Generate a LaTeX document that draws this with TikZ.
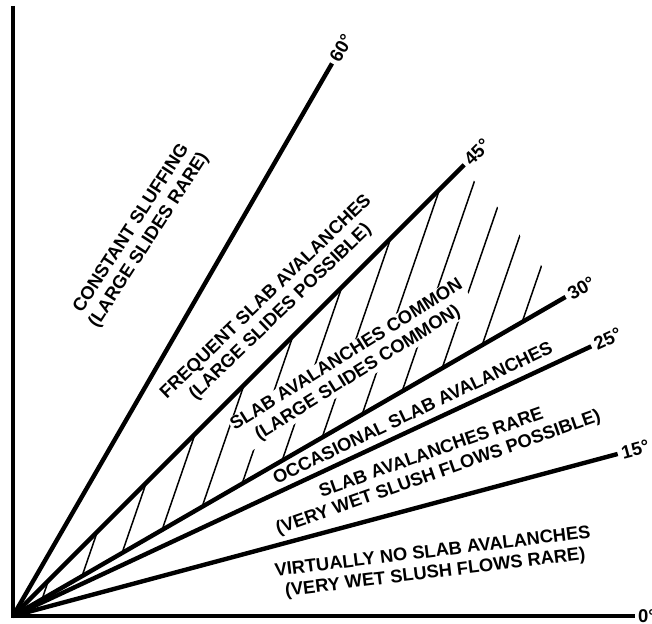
\documentclass[tikz,border=0pt]{standalone}
\usepackage{fontspec}
\setmainfont{Liberation Sans}
\usetikzlibrary{calc}

\begin{document}
\begin{tikzpicture}[x=1pt,y=1pt,line join=miter,
  axis/.style={line width=4.4pt},
  ray/.style={line width=4.4pt},
  hatch/.style={line width=1.5pt},
  zone/.style={font=\bfseries\fontsize{18.3}{21}\selectfont,align=center,inner sep=1pt},
  deg/.style={font=\bfseries\fontsize{18.5}{20}\selectfont,anchor=west,inner sep=1pt}]

\useasboundingbox (0,0) rectangle (652,623);
\coordinate (O) at (13,7);

% Hatched band between the 30 and 45 degree rays.
\begin{scope}
  \clip (O) -- ($(O)+(30:634)$) arc[start angle=30,end angle=45,radius=634] -- cycle;
  \foreach \k in {0,...,12}
  {
    \pgfmathsetmacro{\s}{33.5+46.2*\k}
    \draw[hatch] ($(O)+(30:\s)$) -- ++(71:420);
  }
\end{scope}

% Axes.
\coordinate (ytop) at (13,617);
\coordinate (xend) at (635,7);
\draw[axis] (ytop) |- (xend);
\node[deg] (l0) at ($(xend)+(2,0)$) {0°};

% Slope rays with their angle marks.
\foreach \a/\r in {60/638,45/638,30/638,25/638,15/626}
{
  \coordinate (r\a) at ($(O)+(\a:\r)$);
  \draw[ray] (O) -- (r\a);
  \node[deg,rotate=\a] (l\a) at ($(O)+(\a:\r+3)$) {\a°};
}

% Zone texts.
\node[zone,rotate=57] (sluff) at (140.5,388.3)
  {CONSTANT SLUFFING\\(LARGE SLIDES RARE)};
\node[zone,rotate=44] (frequent) at (273.5,318)
  {FREQUENT SLAB AVALANCHES\\(LARGE SLIDES POSSIBLE)};
\node[zone,rotate=32,fill=white] (common) at (352.5,258.5)
  {SLAB AVALANCHES COMMON\\(LARGE SLIDES COMMON)};
\node[zone,rotate=25.5] (occasional) at (412.5,210.5)
  {OCCASIONAL SLAB AVALANCHES};
\node[zone,rotate=19.5] (rare) at (435,159.5)
  {SLAB AVALANCHES RARE\\(VERY WET SLUSH FLOWS POSSIBLE)};
\node[zone,rotate=7] (virtually) at (434,60)
  {VIRTUALLY NO SLAB AVALANCHES\\(VERY WET SLUSH FLOWS RARE)};
\end{tikzpicture}
\end{document}
